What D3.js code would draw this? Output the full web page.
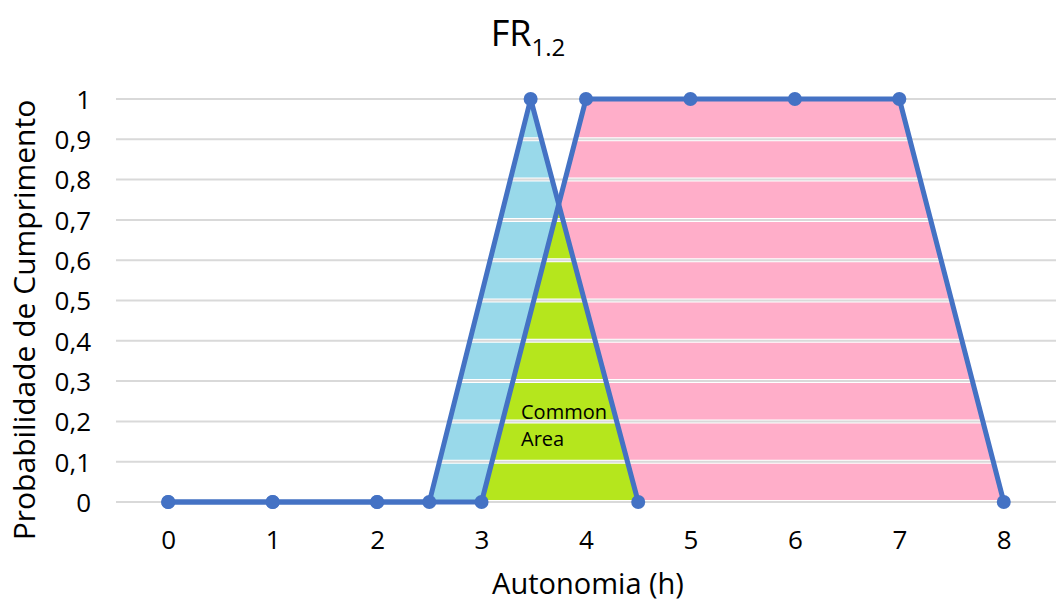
<!DOCTYPE html>
<html>
<head>
<meta charset="utf-8">
<script src="https://cdn.jsdelivr.net/npm/d3@7"></script>
<style>
  body { margin: 0; background: #fff; }
  text { font-family: "Open Sans", sans-serif; fill: #000; }
</style>
</head>
<body>
<svg width="1058" height="603"></svg>
<script>
// triangle series
var triX = [0, 1, 2, 2.5, 3.47, 4.5];
var triY = [0, 0, 0, 0, 1, 0];
// trapezoid series
var trapX = [0, 1, 2, 3, 4, 5, 6, 7, 8];
var trapY = [0, 0, 0, 0, 1, 1, 1, 1, 0];
var xTicks = [0, 1, 2, 3, 4, 5, 6, 7, 8];
var yTicks = [0, 0.1, 0.2, 0.3, 0.4, 0.5, 0.6, 0.7, 0.8, 0.9, 1];

var svg = d3.select("svg");
var x = d3.scaleLinear().domain([-0.5, 8.5]).range([116, 1056]);
var y = d3.scaleLinear().domain([0, 1]).range([502, 99]);

var tri = triX.map(function(d, i) { return [d, triY[i]]; });
var trap = trapX.map(function(d, i) { return [d, trapY[i]]; });

// fill polygons
var triPoly = tri.slice(3);               // 2.5 -> peak -> 4.5
var trapPoly = trap.slice(3);             // 3 -> 4 ... 8
// where the falling side of the triangle meets the rising side of the trapezoid
var a = triPoly[1], b = triPoly[2], c = trapPoly[0], e = trapPoly[1];
var m1 = (b[1] - a[1]) / (b[0] - a[0]), m2 = (e[1] - c[1]) / (e[0] - c[0]);
var ix = (c[1] - a[1] + m1 * a[0] - m2 * c[0]) / (m1 - m2);
var iy = a[1] + m1 * (ix - a[0]);
var common = [c, [ix, iy], b];

function pts(arr) {
  return arr.map(function(p) { return x(p[0]) + "," + y(p[1]); }).join(" ");
}
svg.append("polygon").attr("points", pts(triPoly)).attr("fill", "#99d9ea");
svg.append("polygon").attr("points", pts(trapPoly)).attr("fill", "#ffaec9");
svg.append("polygon").attr("points", pts(common)).attr("fill", "#b5e61d");

// gridlines above fills
var grid = svg.append("g");
grid.selectAll("line.w").data(yTicks).enter().append("line")
  .attr("x1", x.range()[0]).attr("x2", x.range()[1])
  .attr("y1", function(d) { return y(d); }).attr("y2", function(d) { return y(d); })
  .attr("stroke", "#fff").attr("stroke-width", 4);
grid.selectAll("line.g").data(yTicks).enter().append("line")
  .attr("x1", x.range()[0]).attr("x2", x.range()[1])
  .attr("y1", function(d) { return y(d); }).attr("y2", function(d) { return y(d); })
  .attr("stroke", "#d9d9d9").attr("stroke-width", 2);

// lines
var line = d3.line().x(function(d) { return x(d[0]); }).y(function(d) { return y(d[1]); });
[trap, tri].forEach(function(s) {
  svg.append("path").attr("d", line(s)).attr("fill", "none")
    .attr("stroke", "#4472c4").attr("stroke-width", 5).attr("stroke-linejoin", "round");
});
[trap, tri].forEach(function(s) {
  svg.append("g").selectAll("circle").data(s).enter().append("circle")
    .attr("cx", function(d) { return x(d[0]); })
    .attr("cy", function(d) { return y(d[1]); })
    .attr("r", 7).attr("fill", "#4472c4");
});

// axes
var fmt = function(d) { return d3.format("~g")(d).replace(".", ","); };
var yAxis = svg.append("g").attr("transform", "translate(100,0)")
  .call(d3.axisLeft(y).tickValues(yTicks).tickFormat(fmt).tickSize(0));
yAxis.select(".domain").remove();
yAxis.selectAll("text").style("font-size", "26px").attr("dy", "0.36em").attr("x", -9);

var xAxis = svg.append("g").attr("transform", "translate(0,549)")
  .call(d3.axisBottom(x).tickValues(xTicks).tickFormat(d3.format("d")).tickSize(0));
xAxis.select(".domain").remove();
xAxis.selectAll("text").style("font-size", "26px").attr("dy", 0).attr("y", 0);

// titles
var t = svg.append("text").attr("x", 528).attr("y", 46).attr("text-anchor", "middle")
  .style("font-size", "36px");
t.append("tspan").text("FR");
t.append("tspan").attr("dy", 10).style("font-size", "24px").text("1.2");

svg.append("text").attr("x", 588).attr("y", 594).attr("text-anchor", "middle")
  .style("font-size", "29px").text("Autonomia (h)");
svg.append("text").attr("transform", "translate(35,320) rotate(-90)")
  .attr("text-anchor", "middle").style("font-size", "30px").text("Probabilidade de Cumprimento");

svg.append("text").attr("x", 521).attr("y", 419).style("font-size", "20px").text("Common");
svg.append("text").attr("x", 521).attr("y", 446).style("font-size", "20px").text("Area");
</script>
</body>
</html>
